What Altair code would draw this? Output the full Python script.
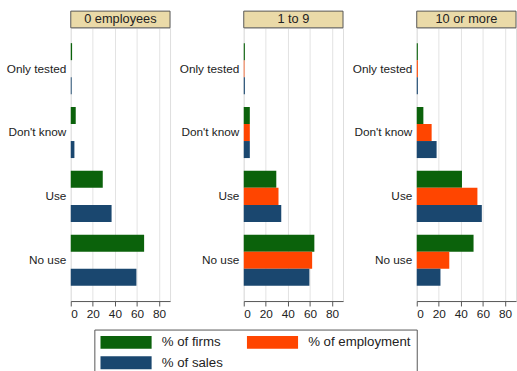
import altair as alt
import pandas as pd

sizes = ["0 employees", "1 to 9", "10 or more"]
categories = ["Only tested", "Don't know", "Use", "No use"]
series = ["% of firms", "% of employment", "% of sales"]
colors = ["#0b620b", "#ff4500", "#1a476f"]

# values per size class, in the order of `categories`
firms_0 = [1.2, 4.5, 29, 66.5]
sales_0 = [0.8, 3.3, 37, 59.5]
firms_1to9 = [1, 5.5, 29.5, 64]
employment_1to9 = [0.6, 5.5, 31.5, 62]
sales_1to9 = [1, 5.5, 34, 59.5]
firms_10 = [1, 6, 41, 51.5]
employment_10 = [1, 13.5, 55, 29.5]
sales_10 = [1, 18, 59, 21.5]
x_ticks = [0, 20, 40, 60, 80]

table = {
    "0 employees": {"% of firms": firms_0, "% of sales": sales_0},
    "1 to 9": {"% of firms": firms_1to9, "% of employment": employment_1to9, "% of sales": sales_1to9},
    "10 or more": {"% of firms": firms_10, "% of employment": employment_10, "% of sales": sales_10},
}
rows = []
for sz, d in table.items():
    for s, vals in d.items():
        for c, v in zip(categories, vals):
            rows.append({"size": sz, "category": c, "series": s, "value": v})
df = pd.DataFrame(rows)

W, H = 101, 278
FONT = "Liberation Sans"

legend = alt.Legend(
    title=None, orient="none", legendX=24, legendY=307, direction="horizontal",
    columns=2, symbolType="M-1,-1H7V1H-1Z", symbolSize=169, symbolStrokeWidth=0,
    symbolOpacity=1, labelOffset=49, labelFontSize=13.5, labelFont=FONT, labelColor="#222",
    columnPadding=24, rowPadding=6, padding=6, strokeColor="#555", fillColor="white",
    cornerRadius=0, labelLimit=200,
)


def panel(name, show_legend):
    sub = df[df["size"] == name]
    bars = alt.Chart(sub).mark_bar(opacity=1).encode(
        x=alt.X("value:Q", scale=alt.Scale(domain=[0, 90], nice=False, zero=True),
                axis=alt.Axis(title=None, values=x_ticks, grid=True, gridColor="#e2e2e2",
                              tickSize=5, tickColor="#555", domainColor="#555",
                              labelFontSize=12, labelFont=FONT, labelColor="#222",
                              labelPadding=3)),
        y=alt.Y("category:N", sort=categories,
                scale=alt.Scale(domain=categories, paddingInner=0.2, paddingOuter=0.24),
                axis=alt.Axis(title=None, ticks=False, domain=False, labelPadding=5,
                              labelFontSize=12, labelFont=FONT, labelColor="#222",
                              labelLimit=200)),
        yOffset=alt.YOffset("series:N", scale=alt.Scale(domain=series, paddingInner=0, paddingOuter=0)),
        color=alt.Color("series:N", scale=alt.Scale(domain=series, range=colors),
                        legend=legend if show_legend else None),
    )
    strip_df = pd.DataFrame({"size": [name]})
    strip = alt.Chart(strip_df).mark_rect(fill="#eadaa8", stroke="#555", strokeWidth=1).encode(
        x=alt.value(0), x2=alt.value(W), y=alt.value(-17), y2=alt.value(0)
    )
    label = alt.Chart(strip_df).mark_text(fontSize=13, font=FONT, color="#222", baseline="middle").encode(
        text="size:N", x=alt.value(W / 2), y=alt.value(-8.5)
    )
    return alt.layer(bars, strip, label).properties(width=W, height=H)


chart = alt.hconcat(
    panel(sizes[0], True), panel(sizes[1], False), panel(sizes[2], False), spacing=7
).properties(
    padding={"left": 5, "top": 7, "right": 0, "bottom": 0}
).configure_view(
    stroke="#555", strokeWidth=1
).configure(
    background="white"
)

chart.save("out.html", embed_options={"renderer": "svg", "actions": False})
